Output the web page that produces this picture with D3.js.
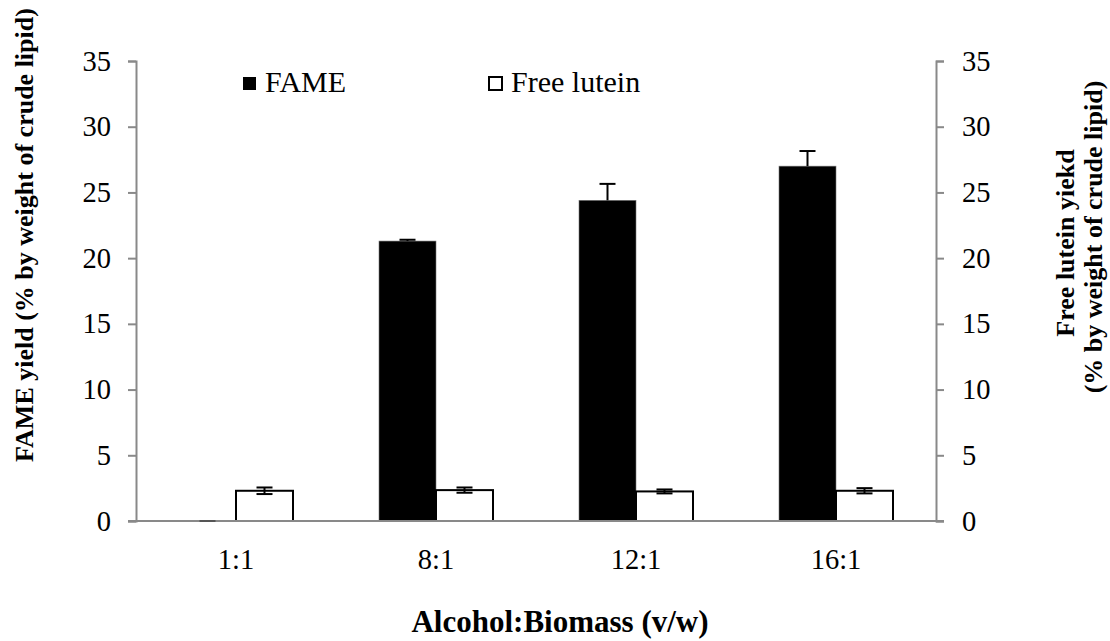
<!DOCTYPE html>
<html>
<head>
<meta charset="utf-8">
<script src="https://cdn.jsdelivr.net/npm/d3@7"></script>
<style>
  body { margin: 0; background: #fff; }
  text { font-family: "Liberation Serif", "Times New Roman", serif; fill: #000; }
</style>
</head>
<body>
<div id="chart"></div>
<script>
// data
var categories = ["1:1", "8:1", "12:1", "16:1"];
var fameValues = [0, 21.3, 24.4, 27.0];
var fameErrors = [0, 0.1, 1.25, 1.15];
var luteinValues = [2.3, 2.35, 2.25, 2.3];
var luteinErrors = [0.25, 0.2, 0.15, 0.2];
var yTicks = [0, 5, 10, 15, 20, 25, 30, 35];

var width = 1110,
	height = 641;

// plot area
var plotLeft = 136,
	plotRight = 936,
	plotTop = 61,
	plotBottom = 521;

var svg = d3.select("#chart")
	.append("svg")
	.attr("width", width)
	.attr("height", height);

var x = d3.scaleBand()
	.domain(categories)
	.range([plotLeft, plotRight]);

// two bars per group, gap width 150%
var barW = x.bandwidth() * 0.285;

var yLeft = d3.scaleLinear().domain([0, 35]).range([plotBottom, plotTop]);
var yRight = d3.scaleLinear().domain([0, 35]).range([plotBottom, plotTop]);

var axisColor = "#898989";

// FAME bars (black)
svg.selectAll(".fame")
	.data(categories)
	.enter().append("rect")
	.attr("class", "fame")
	.attr("x", function(d) { return x(d) + x.bandwidth() / 2 - barW; })
	.attr("y", function(d, i) { return yLeft(fameValues[i]); })
	.attr("width", barW)
	.attr("height", function(d, i) { return plotBottom - yLeft(fameValues[i]); })
	.style("fill", "#000")
	.style("stroke", "#777")
	.style("stroke-width", 0.6);

// Free lutein bars (white with black border)
svg.selectAll(".lutein")
	.data(categories)
	.enter().append("rect")
	.attr("class", "lutein")
	.attr("x", function(d) { return x(d) + x.bandwidth() / 2; })
	.attr("y", function(d, i) { return yRight(luteinValues[i]); })
	.attr("width", barW)
	.attr("height", function(d, i) { return plotBottom - yRight(luteinValues[i]); })
	.style("fill", "#fff")
	.style("stroke", "#000")
	.style("stroke-width", 2);

// left axis
var leftAxis = svg.append("g")
	.attr("transform", "translate(" + plotLeft + ",0)")
	.call(d3.axisLeft(yLeft).tickValues(yTicks).tickSize(8).tickPadding(17).tickSizeOuter(8));

// right axis
var rightAxis = svg.append("g")
	.attr("transform", "translate(" + plotRight + ",0)")
	.call(d3.axisRight(yRight).tickValues(yTicks).tickSize(8).tickPadding(18).tickSizeOuter(8));

// bottom axis (no ticks)
var bottomAxis = svg.append("g")
	.attr("transform", "translate(0," + plotBottom + ")")
	.call(d3.axisBottom(x).tickSize(0).tickPadding(48));

[leftAxis, rightAxis, bottomAxis].forEach(function(a) {
	a.selectAll("path, line").style("stroke", axisColor).style("stroke-width", 2);
	a.selectAll("text")
		.style("font-family", "'Liberation Serif', 'Times New Roman', serif")
		.style("font-size", "28.5px")
		.style("fill", "#000");
});
bottomAxis.select(".domain").attr("d", "M" + (plotLeft - 8) + ",0H" + (plotRight + 8));
bottomAxis.selectAll("text").attr("dy", null).attr("y", 48);

// error bars (drawn over the axis line)
function errorBars(cls, values, errors, scale, offset, both) {
	var g = svg.selectAll("." + cls)
		.data(categories)
		.enter().append("g")
		.attr("class", cls);
	g.append("line")
		.attr("x1", function(d) { return x(d) + x.bandwidth() / 2 + offset; })
		.attr("x2", function(d) { return x(d) + x.bandwidth() / 2 + offset; })
		.attr("y1", function(d, i) { return scale(values[i] - (both ? errors[i] : 0)); })
		.attr("y2", function(d, i) { return scale(values[i] + errors[i]); })
		.style("stroke", "#000")
		.style("stroke-width", 2);
	g.append("line")
		.attr("x1", function(d) { return x(d) + x.bandwidth() / 2 + offset - 8; })
		.attr("x2", function(d) { return x(d) + x.bandwidth() / 2 + offset + 8; })
		.attr("y1", function(d, i) { return scale(values[i] + errors[i]); })
		.attr("y2", function(d, i) { return scale(values[i] + errors[i]); })
		.style("stroke", function(d, i) { return values[i] == 0 ? "#555" : "#000"; })
		.style("stroke-width", 2);
	if (both) {
		g.append("line")
			.attr("x1", function(d) { return x(d) + x.bandwidth() / 2 + offset - 8; })
			.attr("x2", function(d) { return x(d) + x.bandwidth() / 2 + offset + 8; })
			.attr("y1", function(d, i) { return scale(values[i] - errors[i]); })
			.attr("y2", function(d, i) { return scale(values[i] - errors[i]); })
			.style("stroke", "#000")
			.style("stroke-width", 2);
	}
}
errorBars("fameErr", fameValues, fameErrors, yLeft, -barW / 2, false);
errorBars("luteinErr", luteinValues, luteinErrors, yRight, barW / 2, true);

// axis titles
svg.append("text")
	.attr("transform", "translate(33,235) rotate(-90)")
	.attr("text-anchor", "middle")
	.style("font-weight", "bold")
	.style("font-size", "26px")
	.text("FAME yield (% by weight of crude lipid)");

svg.append("text")
	.attr("transform", "translate(1074,243) rotate(-90)")
	.attr("text-anchor", "middle")
	.style("font-weight", "bold")
	.style("font-size", "26px")
	.text("Free lutein yiekd");

svg.append("text")
	.attr("transform", "translate(1102,237) rotate(-90)")
	.attr("text-anchor", "middle")
	.style("font-weight", "bold")
	.style("font-size", "26px")
	.text("(% by weight of crude lipid)");

svg.append("text")
	.attr("x", 560)
	.attr("y", 632)
	.attr("text-anchor", "middle")
	.style("font-weight", "bold")
	.style("font-size", "31px")
	.text("Alcohol:Biomass (v/w)");

// legend
var legendNames = ["FAME", "Free lutein"];
var legendX = [243, 489];
var legend = svg.selectAll(".legend")
	.data(legendNames)
	.enter().append("g")
	.attr("class", "legend")
	.attr("transform", function(d, i) { return "translate(" + legendX[i] + ",77)"; });
legend.append("rect")
	.attr("width", 13)
	.attr("height", 13)
	.style("fill", function(d, i) { return i == 0 ? "#000" : "#fff"; })
	.style("stroke", "#000")
	.style("stroke-width", function(d, i) { return i == 0 ? 0 : 2; });
legend.append("text")
	.attr("x", 22)
	.attr("y", 15)
	.style("font-size", "30px")
	.text(function(d) { return d; });
</script>
</body>
</html>
